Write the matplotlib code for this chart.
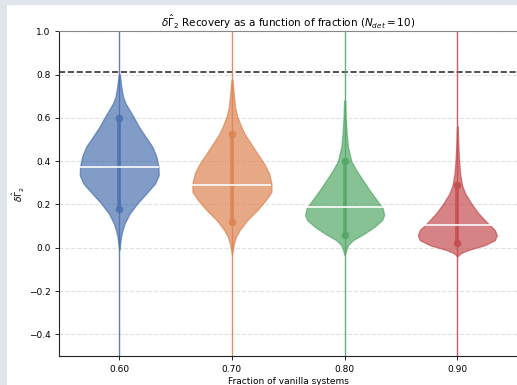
import numpy as np
import matplotlib
matplotlib.use("Agg")
import matplotlib.pyplot as plt
from matplotlib.patches import Rectangle

# fractions of vanilla systems
fractions = [0.60, 0.70, 0.80, 0.90]
tick_labels = ["0.60", "0.70", "0.80", "0.90"]
colors = ["#4C72B0", "#DD8452", "#55A868", "#C44E52"]

# violin profiles (value, relative density)
blue_y = [0.80, 0.743, 0.697, 0.666, 0.635, 0.60, 0.558, 0.512, 0.466, 0.42, 0.374,
          0.335, 0.297, 0.251, 0.205, 0.158, 0.112, 0.082, 0.051, 0.005, -0.01]
blue_d = [0.5, 2.0, 3.7, 6.3, 10.3, 14.7, 19.7, 26.3, 33.0, 37.0, 39.0,
          39.3, 35.7, 27.0, 18.0, 10.3, 5.3, 3.3, 1.7, 0.5, 0.0]
orange_y = [0.774, 0.712, 0.651, 0.605, 0.558, 0.525, 0.482, 0.435, 0.389, 0.343,
            0.297, 0.258, 0.22, 0.174, 0.128, 0.082, 0.051, 0.02, -0.018, -0.03]
orange_d = [0.5, 1.7, 3.0, 5.3, 9.3, 12.7, 18.7, 25.3, 32.0, 37.0,
            39.3, 39.3, 33.7, 25.3, 15.3, 7.7, 4.0, 2.0, 0.5, 0.0]
green_y = [0.68, 0.605, 0.528, 0.466, 0.40, 0.358, 0.312, 0.266, 0.22, 0.182,
           0.151, 0.128, 0.097, 0.066, 0.035, 0.012, -0.018, -0.035]
green_d = [0.5, 1.0, 2.0, 3.3, 6.7, 11.7, 18.3, 25.0, 32.3, 38.3,
           39.7, 37.7, 30.0, 20.0, 8.3, 3.3, 1.0, 0.0]
red_y = [0.56, 0.466, 0.405, 0.343, 0.288, 0.251, 0.205, 0.158, 0.112, 0.082,
         0.058, 0.035, 0.012, -0.011, -0.026, -0.04]
red_d = [0.3, 1.0, 1.7, 2.7, 4.7, 7.7, 13.7, 21.0, 30.3, 37.0,
         39.0, 37.0, 27.0, 10.3, 3.0, 0.0]

profiles_y = [blue_y, orange_y, green_y, red_y]
profiles_d = [blue_d, orange_d, green_d, red_d]

medians = [0.371, 0.288, 0.188, 0.105]
lower = [0.179, 0.120, 0.060, 0.022]
upper = [0.600, 0.527, 0.399, 0.288]
# extreme samples lie outside the visible range
mins = [-0.9, -0.9, -0.9, -0.9]
maxs = [1.4, 1.4, 1.4, 1.4]

ref_value = 0.81
width = 0.07

fig = plt.figure(figsize=(5.17, 3.85), dpi=100)
fig.patch.set_facecolor("#dfe5ea")
fig.patches.append(Rectangle((7 / 517, 0), 1, 1 - 5 / 385, transform=fig.transFigure,
                             facecolor="white", edgecolor="none", zorder=-10))

ax = fig.add_axes([59.3 / 517, 1 - 356 / 385, (517.6 - 59.3) / 517, (356 - 31.2) / 385])
ax.set_zorder(1)
ax.set_facecolor("white")

for i, pos in enumerate(fractions):
    stats = [{
        "coords": np.array(profiles_y[i]),
        "vals": np.array(profiles_d[i]),
        "mean": medians[i],
        "median": medians[i],
        "min": mins[i],
        "max": maxs[i],
    }]
    parts = ax.violin(stats, positions=[pos], widths=width,
                      showmeans=False, showextrema=True, showmedians=False)
    for body in parts["bodies"]:
        body.set_facecolor(colors[i])
        body.set_edgecolor(colors[i])
        body.set_alpha(0.7)
        body.set_zorder(2)
    parts["cbars"].set_color(colors[i])
    parts["cbars"].set_linewidth(1.0)
    parts["cbars"].set_alpha(0.9)
    parts["cmins"].set_visible(False)
    parts["cmaxes"].set_visible(False)

    ax.plot([pos, pos], [lower[i], upper[i]], color=colors[i], lw=2.8,
            marker="o", ms=4.5, alpha=0.8, zorder=3)
    ax.hlines(medians[i], pos - width / 2, pos + width / 2, color="white",
              lw=1.3, alpha=0.9, zorder=4)

ax.axhline(ref_value, color="#333333", ls="--", lw=1.2, zorder=1)

ax.set_xlim(fractions[0] - 0.0532, fractions[-1] + 0.0535)
ax.set_ylim(-0.5, 1.0)
ax.set_xticks(fractions)
ax.set_xticklabels(tick_labels)
ax.set_yticks(np.arange(-0.4, 1.01, 0.2))
ax.yaxis.grid(True, ls="--", color="#cccccc", alpha=0.6, lw=0.8)
ax.set_axisbelow(True)
ax.tick_params(labelsize=6.5, length=3, width=0.6)

ax.spines["top"].set_color("#888888")
for s in ["left", "bottom", "right"]:
    ax.spines[s].set_color("#222222")
    ax.spines[s].set_linewidth(0.8)

ax.set_title(r"$\delta\hat{\Gamma}_2$ Recovery as a function of fraction ($N_{det} = 10$)",
             fontsize=7.5, pad=3)
ax.set_xlabel("Fraction of vanilla systems", fontsize=6.5, labelpad=2)
ax.set_ylabel(r"$\delta\hat{\Gamma}_2$", fontsize=6.5, labelpad=1)

fig.savefig("out.png", dpi=100, facecolor=fig.get_facecolor())
